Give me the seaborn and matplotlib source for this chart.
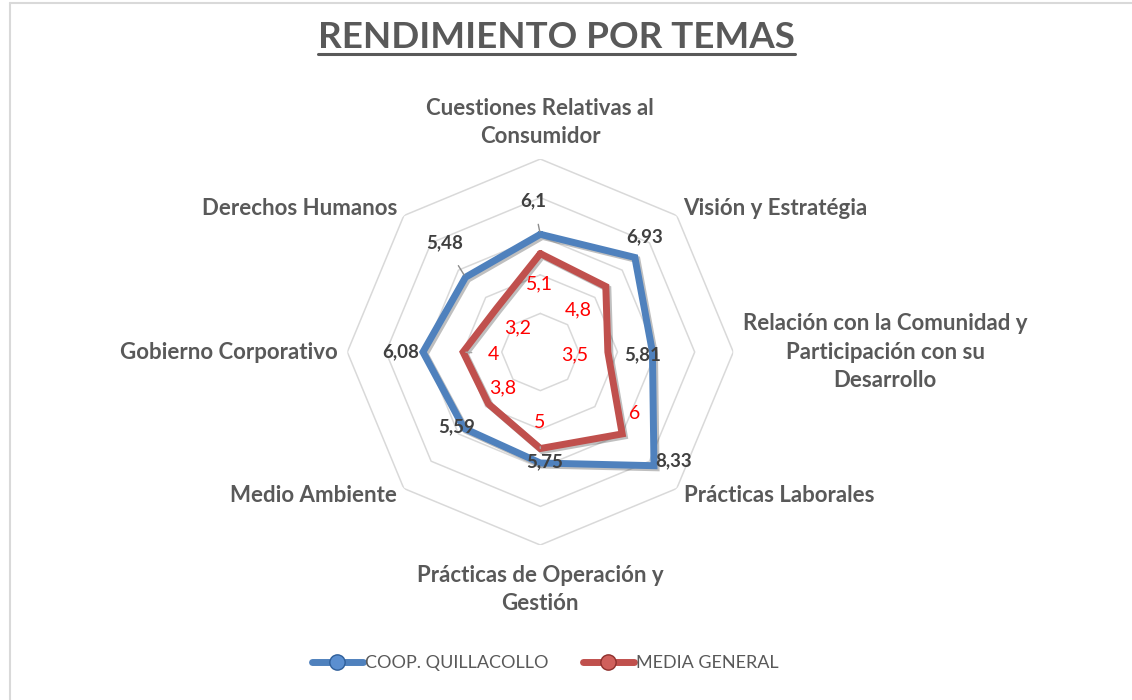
# Radar chart: rendimiento por temas
import numpy as np
import pandas as pd
import seaborn as sns
import matplotlib.pyplot as plt
import matplotlib.patheffects as pe
from matplotlib.lines import Line2D

plt.switch_backend('Agg')

temas = [
    'Cuestiones Relativas al\nConsumidor',
    'Visión y Estratégia',
    'Relación con la Comunidad y\nParticipación con su\nDesarrollo',
    'Prácticas Laborales',
    'Prácticas de Operación y\nGestión',
    'Medio Ambiente',
    'Gobierno Corporativo',
    'Derechos Humanos',
]
coop = [6.1, 6.93, 5.81, 8.33, 5.75, 5.59, 6.08, 5.48]
media = [5.1, 4.8, 3.5, 6.0, 5.0, 3.8, 4.0, 3.2]
series_names = ['COOP. QUILLACOLLO', 'MEDIA GENERAL']
grid_levels = [2, 4, 6, 8, 10]

BLUE = '#4F81BD'
RED = '#C0504D'
GRAY = '#595959'

sns.set_theme(style='white')
plt.rcParams['font.family'] = ['Lato', 'DejaVu Sans']

n = len(temas)
angles = np.linspace(0, 2 * np.pi, n, endpoint=False)


def fmt(v):
    s = f'{v:.2f}'.rstrip('0').rstrip('.')
    return s.replace('.', ',')


def closed_frame(values, name):
    return pd.DataFrame({
        'theta': list(angles) + [2 * np.pi],
        'valor': list(values) + [values[0]],
        'serie': name,
    })


fig = plt.figure(figsize=(11.32, 7.0), dpi=100)
ax = fig.add_axes([0.3068, 0.2214, 0.3410, 0.5514], projection='polar')
ax.set_theta_offset(np.pi / 2)
ax.set_theta_direction(-1)
ax.set_ylim(0, 10)
ax.grid(False)
ax.spines['polar'].set_visible(False)
ax.set_xticks([])
ax.set_yticks([])
ax.set_facecolor('none')

# octagonal grid rings
ring_theta = list(angles) + [2 * np.pi]
for lvl in grid_levels:
    ax.plot(ring_theta, [lvl] * (n + 1), color='#D9D9D9', lw=1.1, zorder=1)

shadow = [pe.SimpleLineShadow(offset=(1.5, -1.5), alpha=0.25, shadow_color='black'), pe.Normal()]
for vals, name, col in [(coop, series_names[0], BLUE), (media, series_names[1], RED)]:
    df = closed_frame(vals, name)
    sns.lineplot(data=df, x='theta', y='valor', ax=ax, sort=False, estimator=None,
                 color=col, lw=5, legend=False, zorder=3,
                 path_effects=shadow, solid_joinstyle='miter')
ax.set_xlabel('')
ax.set_ylabel('')

# category labels
label_r = [10.6, 10.5, 10.5, 10.5, 11.05, 10.5, 10.5, 10.5]
label_ha = ['center', 'left', 'left', 'left', 'center', 'right', 'right', 'right']
label_va = ['bottom', 'center', 'center', 'center', 'top', 'center', 'center', 'center']
for a, t, r, ha, va in zip(angles, temas, label_r, label_ha, label_va):
    ax.text(a, r, t, ha=ha, va=va, multialignment='center', fontsize=16,
            fontweight='bold', color=GRAY, clip_on=False, linespacing=1.42)

# data labels (offsets in pixels)
coop_off = [(-7, 34), (10, 21), (-10, -3), (20, 5), (4, 1), (-7, 2), (-22, 0), (-21, 34)]
coop_lead = [True, False, False, False, False, False, False, True]
media_off = [(-1, -30), (-28, -23), (-33, -3), (12, 20), (-1, 26), (14, 16), (30, -2), (21, -20)]
media_lead = [False, False, False, False, True, False, True, False]

for a, v, off, lead in zip(angles, coop, coop_off, coop_lead):
    ax.annotate(fmt(v), xy=(a, v), xytext=off, textcoords='offset pixels',
                ha='center', va='center', fontsize=13.5, fontweight='bold',
                color='#404040', zorder=5,
                arrowprops=dict(arrowstyle='-', color='#8C8C8C', lw=1,
                                shrinkA=9, shrinkB=2) if lead else None)
for a, v, off, lead in zip(angles, media, media_off, media_lead):
    ax.annotate(fmt(v), xy=(a, v), xytext=off, textcoords='offset pixels',
                ha='center', va='center', fontsize=14, color='#FF0000', zorder=5,
                arrowprops=dict(arrowstyle='-', color='#A6A6A6', lw=1,
                                shrinkA=9, shrinkB=2) if lead else None)

# title with underline
title = fig.text(0.4916, 0.946, 'RENDIMIENTO POR TEMAS', ha='center', va='center',
                 fontsize=26.5, fontweight='bold', color=GRAY)
fig.canvas.draw()
bb = title.get_window_extent().transformed(fig.transFigure.inverted())
fig.add_artist(Line2D([bb.x0, bb.x1], [bb.y0 + 0.001, bb.y0 + 0.001],
                      color=GRAY, lw=2.2, transform=fig.transFigure))

# chart area border (top and left edges)
fig.add_artist(Line2D([0.009, 1.0], [0.996, 0.996], color='#D9D9D9', lw=1.5,
                      transform=fig.transFigure))
fig.add_artist(Line2D([0.009, 0.009], [0.0, 0.996], color='#D9D9D9', lw=1.5,
                      transform=fig.transFigure))

handles = [
    Line2D([], [], color=BLUE, lw=5, marker='o', markersize=11,
           markerfacecolor='#5B8FD0', markeredgecolor='#2F5F9A'),
    Line2D([], [], color=RED, lw=5, marker='o', markersize=11,
           markerfacecolor='#D0605C', markeredgecolor='#8E2F2C'),
]
fig.legend(handles, series_names, loc='center', bbox_to_anchor=(0.482, 0.053),
           ncol=2, frameon=False, fontsize=13, handlelength=2.8,
           handletextpad=0.15, columnspacing=1.9, labelcolor=GRAY)

fig.savefig('out.png', dpi=100)
plt.close(fig)
